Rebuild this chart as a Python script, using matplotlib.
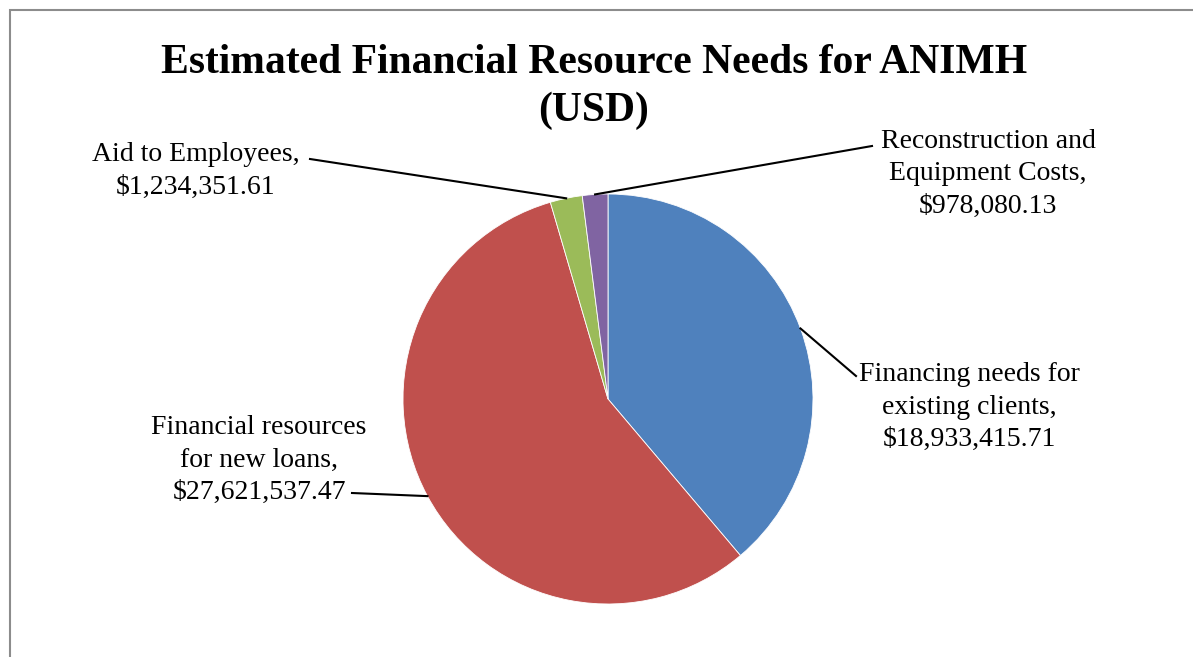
import numpy as np
import matplotlib
matplotlib.use("Agg")
import matplotlib.pyplot as plt
from matplotlib.patches import Rectangle

categories = ["Financing needs for\nexisting clients,",
              "Financial resources\nfor new loans,",
              "Aid to Employees,",
              "Reconstruction and\nEquipment Costs,"]
values = [18933415.71, 27621537.47, 1234351.61, 978080.13]
colors = ["#4F81BD", "#C0504D", "#9BBB59", "#8064A2"]
title = "Estimated Financial Resource Needs for ANIMH\n(USD)"

W, H = 1193, 657
fig = plt.figure(figsize=(W / 100, H / 100), dpi=100)
ax = fig.add_axes([0, 0, 1, 1])
ax.set_xlim(0, W)
ax.set_ylim(0, H)
ax.set_aspect("equal")
ax.axis("off")

plt.rcParams["font.family"] = ["Liberation Serif", "DejaVu Serif"]

# chart frame (extends beyond the image on right/bottom)
ax.add_patch(Rectangle((10, -20), W + 20, H - 10 + 20, fill=False,
                       edgecolor="#8c8c8c", linewidth=1.5, zorder=0))

cx, cy, r = 608, H - 399, 205
wedges, _ = ax.pie(values, colors=colors, startangle=90, counterclock=False,
                   center=(cx, cy), radius=r, frame=True,
                   wedgeprops=dict(edgecolor="white", linewidth=0.6))
ax.set_xlim(0, W)
ax.set_ylim(0, H)
ax.axis("off")

labels = [f"{c}\n${v:,.2f}" for c, v in zip(categories, values)]
text_pos = [(969, H - 407), (259, H - 460), (196, H - 171), (988, H - 174)]
line_end = [(856, H - 376), (352, H - 493), (310, H - 159), (872, H - 146)]

for w, lab, tp, le in zip(wedges, labels, text_pos, line_end):
    ang = np.deg2rad((w.theta1 + w.theta2) / 2)
    px, py = cx + r * np.cos(ang), cy + r * np.sin(ang)
    ax.plot([px, le[0]], [py, le[1]], color="black", linewidth=1.5, zorder=3)
    ax.text(tp[0], tp[1], lab, ha="center", va="center", fontsize=20,
            linespacing=1.38, family=["Liberation Serif", "DejaVu Serif"])

ax.text(594, H - 87, title, ha="center", va="center", fontsize=30,
        fontweight="bold", linespacing=1.32,
        family=["Liberation Serif", "DejaVu Serif"])

fig.savefig("out.png", dpi=100)
